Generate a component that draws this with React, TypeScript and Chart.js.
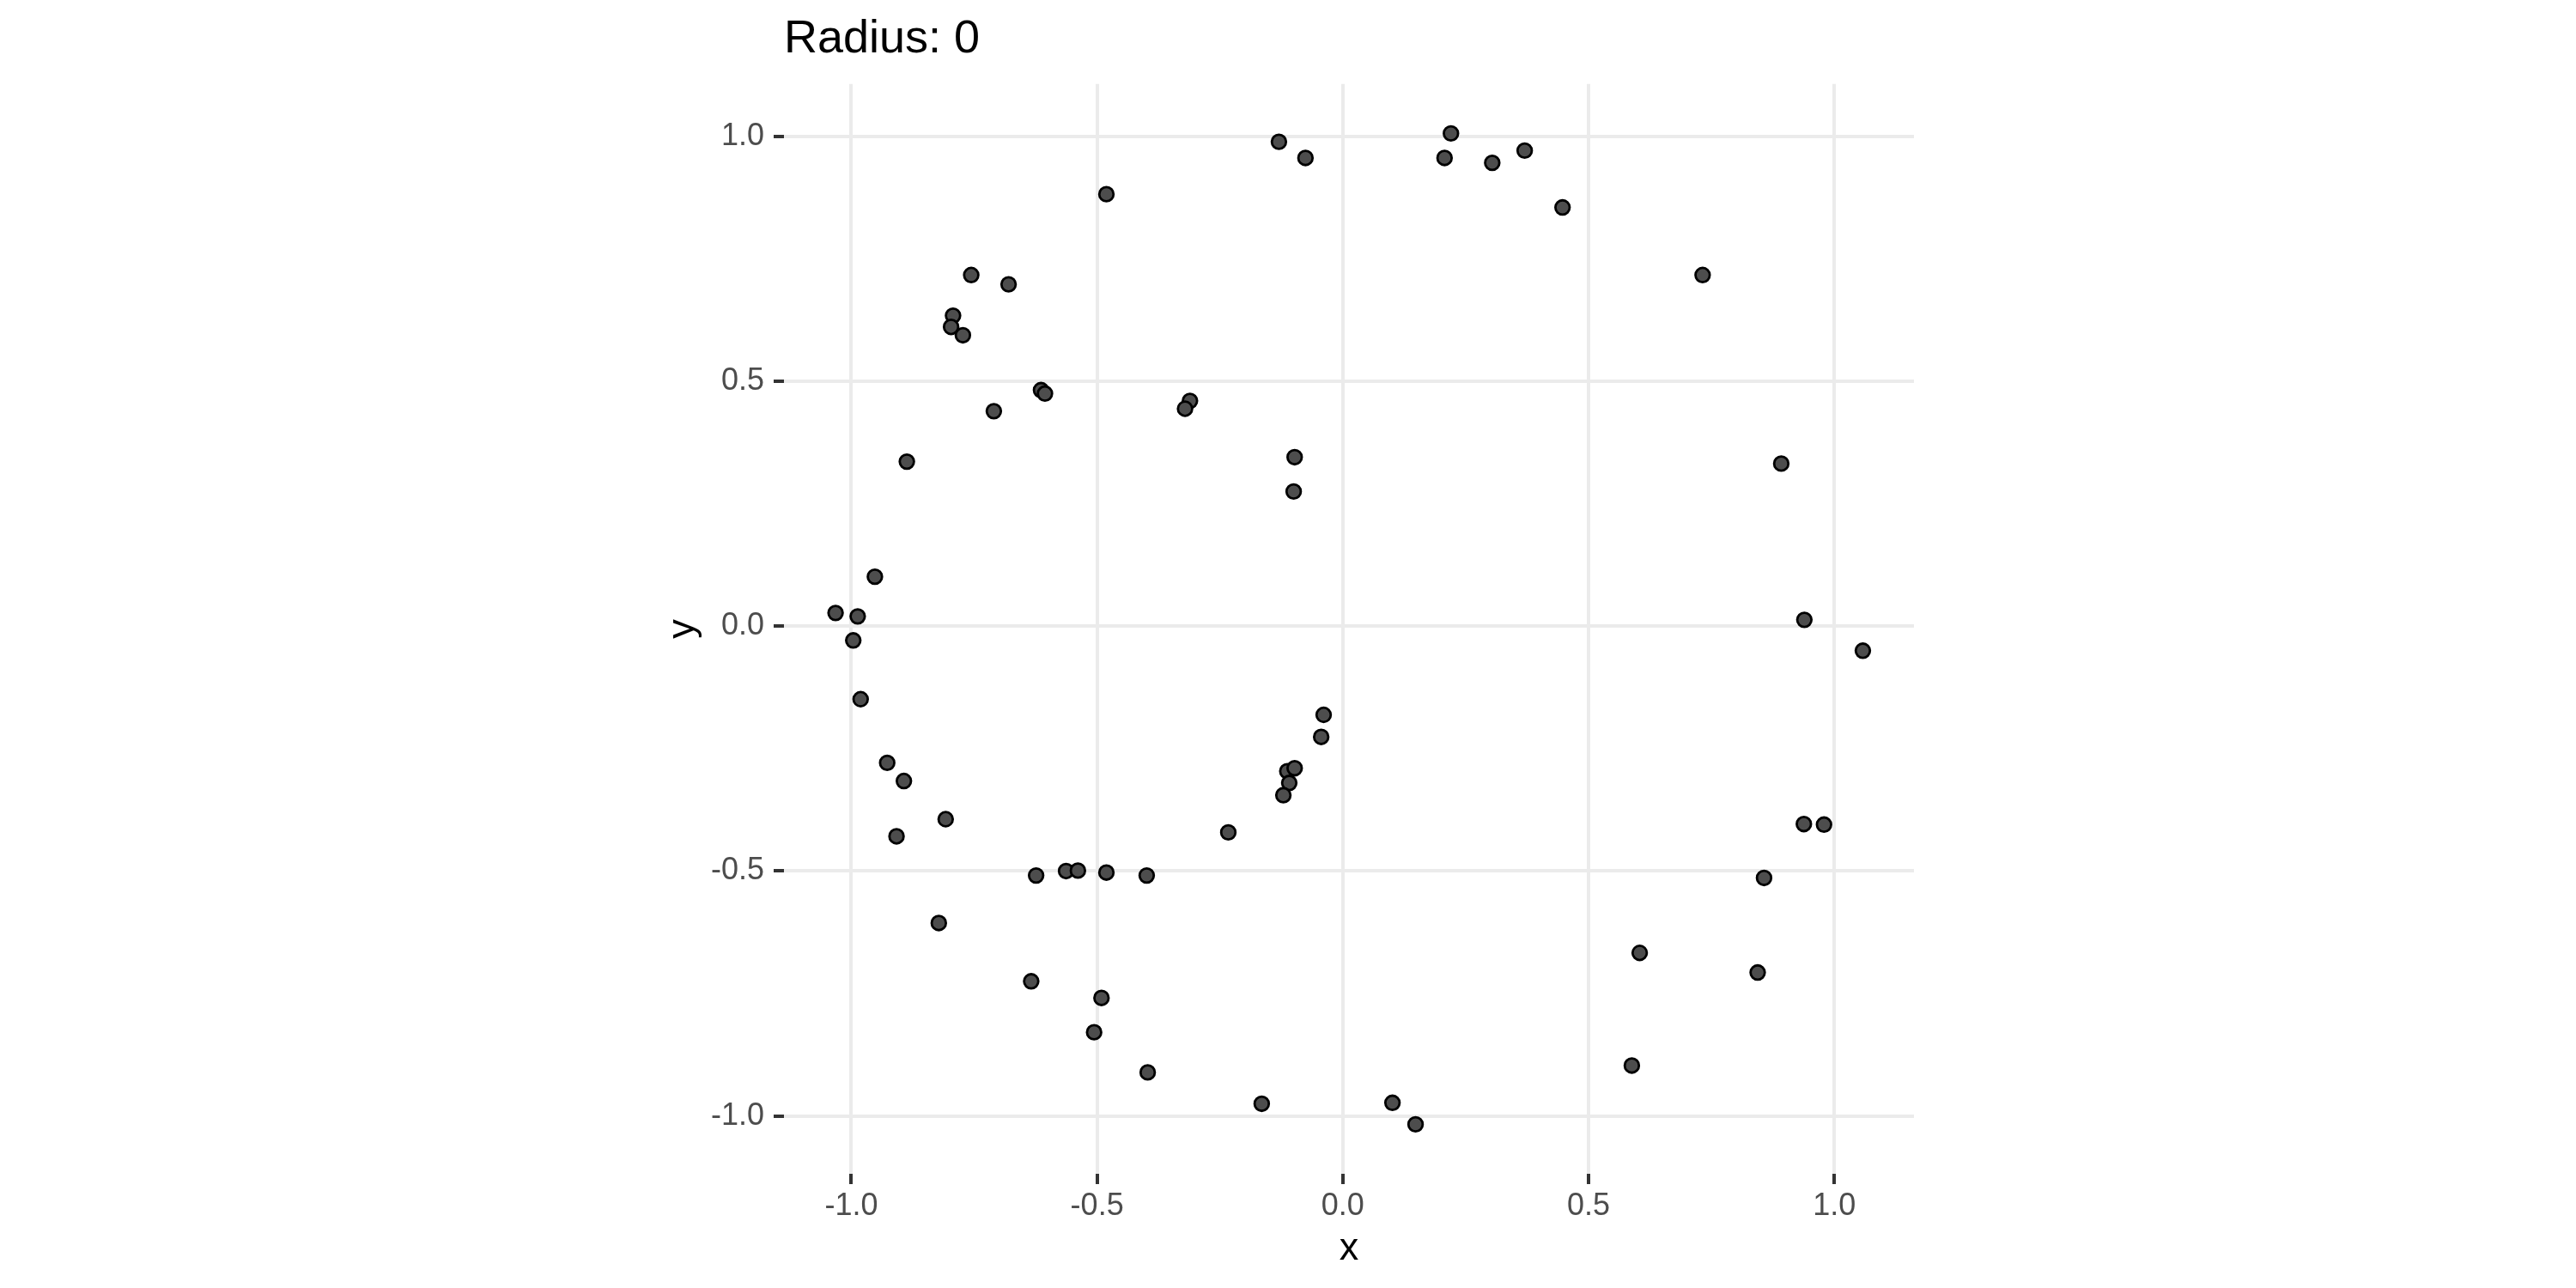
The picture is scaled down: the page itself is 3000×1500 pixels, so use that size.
import React, { useEffect, useRef } from "react";
import { Chart, registerables } from "chart.js";

Chart.register(...registerables);

const titleText = "Radius: 0";
const xTitle = "x";
const yTitle = "y";

const xValues = [
  -0.130, -0.076, 0.220, 0.207, 0.304, 0.370, 0.447, -0.481, -0.756, -0.680,
  -0.793, -0.797, -0.773, -0.614, -0.606, -0.710, -0.311, -0.321, -0.098, -0.100,
  -0.887, 0.732, 0.892, -0.952, -1.032, -0.987, 0.939, -0.996, -0.981, 1.058,
  -0.927, -0.893, -0.808, -0.908, -0.039, -0.044, -0.113, -0.098, -0.109, -0.121,
  -0.233, -0.624, -0.563, -0.539, -0.481, -0.399, -0.822, -0.634, -0.491, -0.506,
  -0.397, -0.165, 0.938, 0.979, 0.857, 0.604, 0.844, 0.588, 0.101, 0.148,
];
const yValues = [
  0.989, 0.956, 1.006, 0.956, 0.946, 0.971, 0.855, 0.882, 0.717, 0.698,
  0.634, 0.611, 0.594, 0.482, 0.475, 0.439, 0.460, 0.444, 0.345, 0.275,
  0.336, 0.717, 0.332, 0.101, 0.027, 0.020, 0.013, -0.029, -0.149, -0.050,
  -0.279, -0.316, -0.394, -0.429, -0.181, -0.226, -0.296, -0.290, -0.320, -0.345,
  -0.421, -0.509, -0.500, -0.499, -0.503, -0.509, -0.606, -0.725, -0.759, -0.829,
  -0.911, -0.975, -0.404, -0.405, -0.514, -0.667, -0.707, -0.897, -0.973, -1.017,
];

const xTicks = [-1.0, -0.5, 0.0, 0.5, 1.0];
const yTicks = [-1.0, -0.5, 0.0, 0.5, 1.0];
const xLimits = [-1.137, 1.162];
const yLimits = [-1.118, 1.107];

const FONT = "'Liberation Sans', Arial, Helvetica, sans-serif";

export default function App() {
  const ref = useRef<HTMLCanvasElement>(null);

  useEffect(() => {
    const canvas = ref.current;
    if (!canvas) return;
    const gridOpts = {
      color: "#EBEBEB",
      lineWidth: 4,
      drawTicks: true,
      tickLength: 12,
      tickColor: "#333333",
      tickWidth: 4,
    };
    const chart = new Chart(canvas, {
      type: "scatter",
      data: {
        datasets: [
          {
            data: xValues.map((x, i) => ({ x, y: yValues[i] })),
            backgroundColor: "#4D4D4D",
            borderColor: "#000000",
            borderWidth: 2.8,
            pointRadius: 8.3,
            pointHoverRadius: 8.3,
          },
        ],
      },
      options: {
        responsive: false,
        animation: false,
        devicePixelRatio: 1,
        layout: { padding: { left: 0, top: 0, right: 771, bottom: 0 } },
        plugins: {
          legend: { display: false },
          tooltip: { enabled: false },
          title: {
            display: true,
            text: titleText,
            align: "start",
            fullSize: false,
            color: "#000000",
            font: { family: FONT, size: 54, weight: "normal", lineHeight: 1.2 },
            padding: { top: 14, bottom: 19 },
          },
        },
        scales: {
          x: {
            type: "linear",
            min: xLimits[0],
            max: xLimits[1],
            afterFit: (s: any) => {
              s.height = 133;
            },
            afterBuildTicks: (s: any) => {
              s.ticks = xTicks.map((v) => ({ value: v }));
            },
            grid: gridOpts,
            border: { display: false },
            ticks: {
              callback: (v: any) => Number(v).toFixed(1),
              color: "#4D4D4D",
              font: { family: FONT, size: 36 },
              padding: 4,
              maxRotation: 0,
              autoSkip: false,
            },
            title: {
              display: true,
              text: xTitle,
              color: "#000000",
              font: { family: FONT, size: 45 },
              padding: { top: 0, bottom: 18 },
            },
          },
          y: {
            type: "linear",
            min: yLimits[0],
            max: yLimits[1],
            afterFit: (s: any) => {
              s.width = 913;
            },
            afterBuildTicks: (s: any) => {
              s.ticks = yTicks.map((v) => ({ value: v }));
            },
            grid: gridOpts,
            border: { display: false },
            ticks: {
              callback: (v: any) => Number(v).toFixed(1),
              color: "#4D4D4D",
              font: { family: FONT, size: 36 },
              padding: 11,
              autoSkip: false,
            },
            title: {
              display: true,
              text: yTitle,
              color: "#000000",
              font: { family: FONT, size: 45 },
              padding: { top: 769, bottom: 0 },
            },
          },
        },
      },
    } as any);
    return () => chart.destroy();
  }, []);

  return (
    <div
      style={{
        position: "fixed",
        left: 0,
        top: 0,
        width: 3000,
        height: 1500,
        background: "#ffffff",
      }}
    >
      <canvas ref={ref} width={3000} height={1500} style={{ width: 3000, height: 1500, display: "block" }} />
    </div>
  );
}
